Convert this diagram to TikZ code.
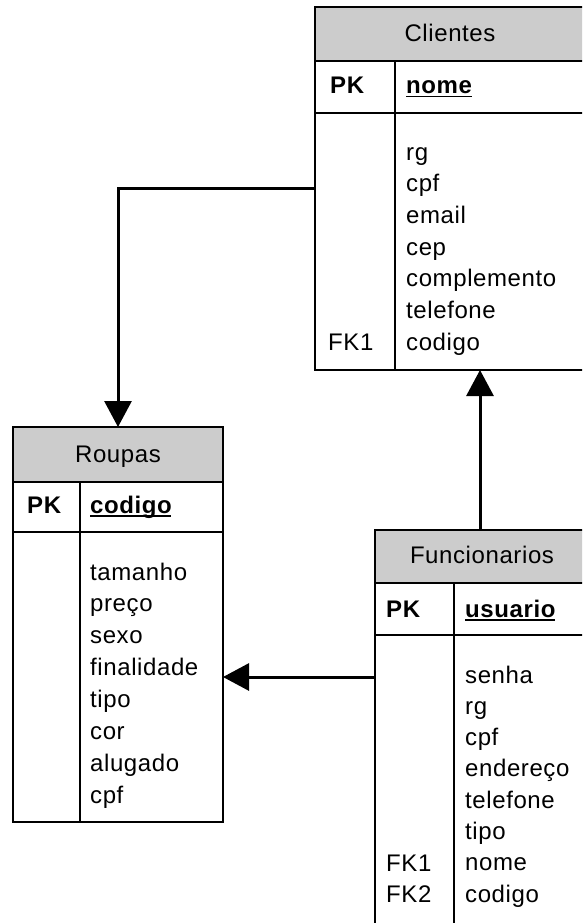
\documentclass[tikz,border=0pt]{standalone}
\usepackage{fontspec}
\setmainfont{Liberation Sans}[LetterSpace=2.5]
\usetikzlibrary{arrows.meta,calc}
\newcommand\keyul[1]{\setbox0\hbox{\bfseries #1}\rlap{\rule[-3.5pt]{\dimexpr\wd0-0.5pt\relax}{1.8pt}}\box0}
\begin{document}
\begin{tikzpicture}[x=1pt,y=-1pt,
  tbox/.style={fill=white, inner sep=0pt, outer sep=0pt},
  hdr/.style={fill=black!20},
  tline/.style={line width=1.8pt, draw=black},
  txt/.style={anchor=base west, inner sep=0pt, font=\fontsize{24}{28}\selectfont},
  ctr/.style={anchor=base, inner sep=0pt, font=\fontsize{24}{28}\selectfont},
  conn/.style={line width=3pt, -{Triangle[length=26pt,width=27pt]}},
]
\useasboundingbox (0,0) rectangle (582,923);
\fill[white] (0,0) rectangle (582,923);
\clip (0,0) rectangle (582,923);

% ---------- Clientes ----------
\node[tbox, minimum width=270pt, minimum height=363pt] (cli) at (450,188.5) {};
\fill[hdr] (cli.north west) rectangle ($(cli.north east)+(0,54)$);
\draw[tline] (cli.north west) rectangle (cli.south east);
\draw[tline] ($(cli.north west)+(0,54)$) -- ($(cli.north east)+(0,54)$)
             ($(cli.north west)+(0,106)$) -- ($(cli.north east)+(0,106)$)
             ($(cli.north west)+(80,54)$) -- ($(cli.south west)+(80,0)$);
\node[ctr] (clih) at (450,42) {Clientes};
\node[txt, font=\fontsize{24}{28}\selectfont\bfseries] (clipk) at (330,94) {PK};
\node[txt] (clik) at (406,94) {\keyul{nome}};
\foreach \t [count=\i from 0] in {rg,cpf,email,cep,complemento,telefone,codigo}
  \node[txt] (cli\i) at (406,160+31.7*\i) {\t};
\node[txt] (clifk) at (328,350) {FK1};

% ---------- Roupas ----------
\node[tbox, minimum width=210pt, minimum height=395pt] (rou) at (118,624.5) {};
\fill[hdr] (rou.north west) rectangle ($(rou.north east)+(0,55)$);
\draw[tline] (rou.north west) rectangle (rou.south east);
\draw[tline] ($(rou.north west)+(0,55)$) -- ($(rou.north east)+(0,55)$)
             ($(rou.north west)+(0,105)$) -- ($(rou.north east)+(0,105)$)
             ($(rou.north west)+(67,55)$) -- ($(rou.south west)+(67,0)$);
\node[ctr] (rouh) at (118,462) {Roupas};
\node[txt, font=\fontsize{24}{28}\selectfont\bfseries] (roupk) at (27,513) {PK};
\node[txt] (rouk) at (90,513) {\keyul{codigo}};
\foreach \t [count=\i from 0] in {tamanho,preço,sexo,finalidade,tipo,cor,alugado,cpf}
  \node[txt] (rou\i) at (90,580+31.9*\i) {\t};

% ---------- Funcionarios ----------
\node[tbox, minimum width=210pt, minimum height=410pt] (fun) at (480,735) {};
\fill[hdr] (fun.north west) rectangle ($(fun.north east)+(0,53)$);
\draw[tline] (fun.north west) rectangle (fun.south east);
\draw[tline] ($(fun.north west)+(0,53)$) -- ($(fun.north east)+(0,53)$)
             ($(fun.north west)+(0,105)$) -- ($(fun.north east)+(0,105)$)
             ($(fun.north west)+(79,53)$) -- ($(fun.south west)+(79,0)$);
\node[ctr] (funh) at (482,563) {Funcionarios};
\node[txt, font=\fontsize{24}{28}\selectfont\bfseries] (funpk) at (386,617) {PK};
\node[txt] (funk) at (465,617) {\keyul{usuario}};
\foreach \t [count=\i from 0] in {senha,rg,cpf,endereço,telefone,tipo,nome,codigo}
  \node[txt] (fun\i) at (465,683+31.3*\i) {\t};
\node[txt] (funfka) at (386,871) {FK1};
\node[txt] (funfkb) at (386,902) {FK2};

% ---------- connectors ----------
\draw[conn] (cli.west) -| (rou.north);
\draw[conn] (fun.north) -- (fun.north |- cli.south);
\coordinate (funleft) at ($(fun.north west)+(0,147)$);
\draw[conn] (funleft) -- (funleft -| rou.east);
\end{tikzpicture}
\end{document}
